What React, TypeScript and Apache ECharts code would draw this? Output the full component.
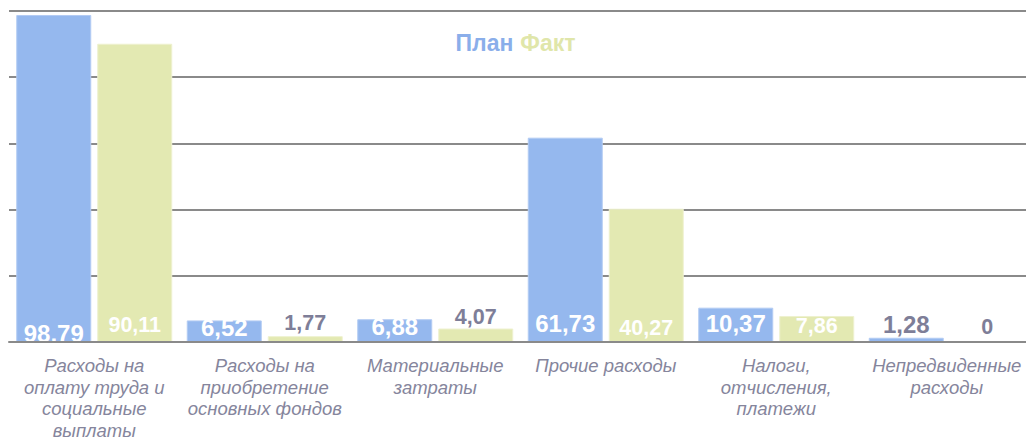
import React, { useEffect, useRef } from "react";
import * as echarts from "echarts";

const categories = [
  "Расходы на\nоплату труда и\nсоциальные\nвыплаты",
  "Расходы на\nприобретение\nосновных фондов",
  "Материальные\nзатраты",
  "Прочие расходы",
  "Налоги,\nотчисления,\nплатежи",
  "Непредвиденные\nрасходы",
];
const seriesNames = ["План", "Факт"];
const planValues = [98.79, 6.52, 6.88, 61.73, 10.37, 1.28];
const factValues = [90.11, 1.77, 4.07, 40.27, 7.86, 0];

// label styling (font size, distance from bar bottom, white-inside or grey)
const planLabelStyle = [
  { fs: 24, d: -3, white: true },
  { fs: 24, d: 2.5, white: true },
  { fs: 24, d: 3.5, white: true },
  { fs: 24, d: 6.5, white: true },
  { fs: 24, d: 7, white: true },
  { fs: 24, d: 6, white: false },
];
const factLabelStyle = [
  { fs: 21.5, d: 6.5, white: true },
  { fs: 21.5, d: 8, white: false },
  { fs: 21.5, d: 14, white: false },
  { fs: 21.5, d: 3.5, white: true },
  { fs: 21.5, d: 5.5, white: true },
  { fs: 21.5, d: 4.5, white: false },
];

const PLAN_COLOR = "#95b8ee";
const FACT_COLOR = "#e3e9b2";
const GREY = "#7e7e98";
const FONT = "Arial, 'Liberation Sans', sans-serif";

const fmt = (v: number) => (v === 0 ? "0" : v.toFixed(2).replace(".", ","));

function buildData(values: number[], styles: { fs: number; d: number; white: boolean }[]) {
  return values.map((v, i) => ({
    value: v,
    label: {
      show: true,
      position: "insideBottom",
      distance: styles[i].d,
      fontSize: styles[i].fs,
      lineHeight: styles[i].fs,
      fontWeight: "bold",
      fontFamily: FONT,
      color: styles[i].white ? "#ffffff" : GREY,
      formatter: () => fmt(v),
    },
  }));
}

export default function App() {
  const ref = useRef<HTMLDivElement>(null);
  useEffect(() => {
    if (!ref.current) return;
    const chart = echarts.init(ref.current, null, { renderer: "svg" });
    chart.setOption({
      animation: false,
      backgroundColor: "#ffffff",
      legend: {
        top: 26,
        left: "center",
        icon: "none",
        itemWidth: 0,
        itemHeight: 0,
        itemGap: 2,
        selectedMode: false,
        textStyle: { fontSize: 23, fontWeight: "bold", fontFamily: FONT },
        data: [
          { name: seriesNames[0], textStyle: { color: "#8aaeea" } },
          { name: seriesNames[1], textStyle: { color: "#e0e6aa" } },
        ],
      },
      grid: {
        left: 9,
        top: 11,
        width: 1023,
        height: 331,
        containLabel: false,
        outerBoundsMode: "none",
      },
      xAxis: {
        type: "category",
        data: categories,
        z: 10,
        axisLine: { lineStyle: { color: "#8a8a8a", width: 2 } },
        axisTick: { show: false },
        axisLabel: {
          interval: 0,
          margin: 13,
          fontSize: 18.5,
          lineHeight: 21.5,
          fontStyle: "italic",
          fontFamily: FONT,
          color: "#85859c",
        },
      },
      yAxis: {
        type: "value",
        min: 0,
        max: 100,
        interval: 20,
        axisLabel: { show: false },
        axisLine: { show: false },
        axisTick: { show: false },
        splitLine: { lineStyle: { color: "#8a8a8a", width: 2 } },
      },
      series: [
        {
          name: seriesNames[0],
          type: "bar",
          barWidth: 75,
          barGap: "8%",
          itemStyle: { color: PLAN_COLOR, borderColor: "#b3cbf3", borderWidth: 1 },
          data: buildData(planValues, planLabelStyle),
        },
        {
          name: seriesNames[1],
          type: "bar",
          barWidth: 75,
          barGap: "8%",
          itemStyle: { color: FACT_COLOR, borderColor: "#eef1cf", borderWidth: 1 },
          data: buildData(factValues, factLabelStyle),
        },
      ],
    });
    return () => chart.dispose();
  }, []);
  return (
    <div
      ref={ref}
      style={{ position: "fixed", left: 0, top: 0, width: 1026, height: 437 }}
    />
  );
}
